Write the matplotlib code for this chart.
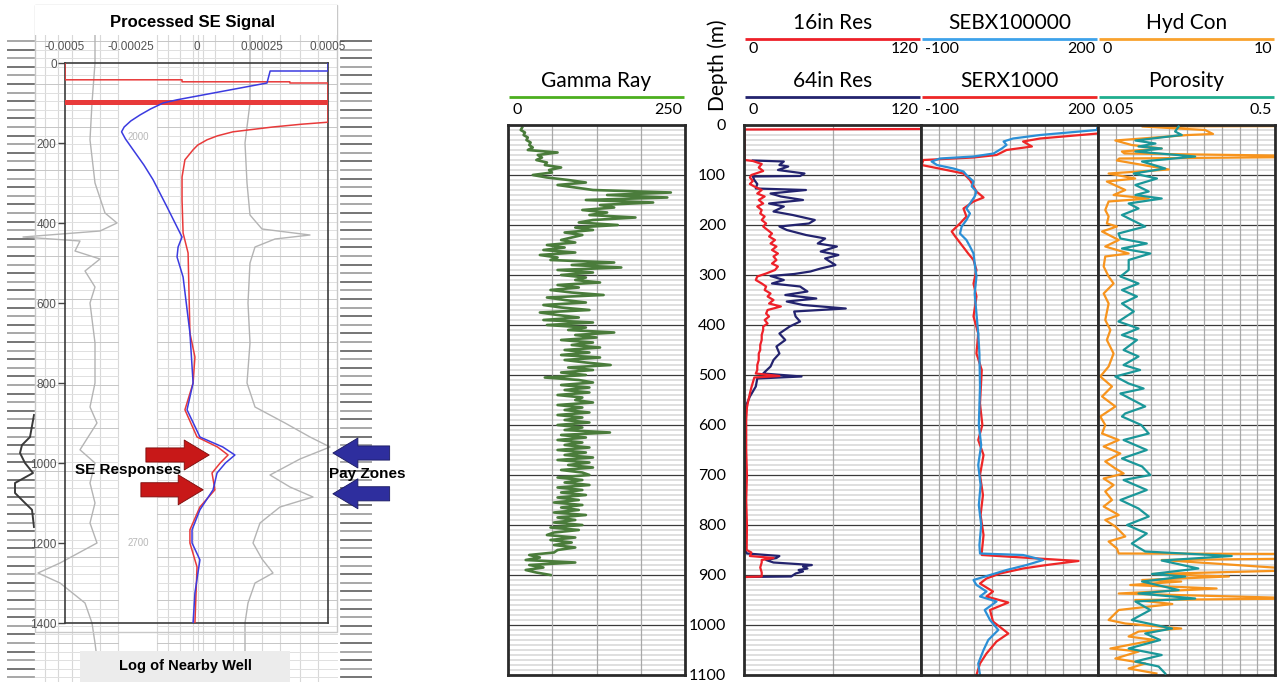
import numpy as np
import matplotlib
matplotlib.use("Agg")
import matplotlib.pyplot as plt
from matplotlib.patches import Rectangle

# ============================ DATA ============================
# ---- Left panel: processed SE signal (depth m, amplitude)
se_ticks = [-0.0005, -0.00025, 0, 0.00025, 0.0005]
se_tick_labels = ["-0.0005", "-0.00025", "0", "0.00025", "0.0005"]
se_depth_ticks = [0, 200, 400, 600, 800, 1000, 1200, 1400]

se_blue_depth = [0, 20, 20, 50, 92, 100, 115, 130, 145, 160, 172, 190, 217, 255, 292, 360,
                 435, 460, 485, 535, 675, 800, 867, 935, 960, 980, 1000, 1025, 1067, 1117,
                 1167, 1200, 1242, 1325, 1400]
se_blue_val = [0.0005, 0.0005, 0.00028, 0.000268, -0.000074, -0.000127, -0.000175,
               -0.000215, -0.000250, -0.000275, -0.000285, -0.00027, -0.000241, -0.000200,
               -0.000165, -0.000112, -0.000055, -0.00007, -0.000074, -0.000051, -0.000025,
               -0.000013, -0.000036, 0.000013, 0.0001, 0.000146, 0.00011, 0.000078,
               0.000063, 0.000013, -0.000017, -0.000017, 0.000013, -0.000006, -0.000013]

se_red_depth = [0, 42, 42, 47, 47, 50, 50, 148, 153, 160, 172, 182, 192, 205, 217, 242,
                285, 342, 425, 475, 675, 735, 800, 867, 935, 960, 980, 1000, 1025, 1067,
                1110, 1167, 1200, 1260, 1400]
se_red_val = [-0.0005, -0.0005, -0.000055, -0.000055, 0.000355, 0.000355, 0.0005, 0.0005,
              0.00040, 0.00029, 0.000139, 0.00008, 0.00004, 0.000005, -0.000013, -0.000044,
              -0.000055, -0.000055, -0.000051, -0.000032, -0.000025, -0.000006, -0.000013,
              -0.000044, 0.000002, 0.00008, 0.00012, 0.00009, 0.000059, 0.00007, 0.000013,
              -0.000025, -0.000025, 0.000002, -0.000006]
se_red_band_depth = 97

# ---- Nearby well log (background scan; depth m, scan position)
well_a_depth = [-70, 0, 100, 192, 300, 375, 400, 420, 435, 445, 470, 490, 520, 560, 600,
                700, 800, 860, 900, 967, 1000, 1050, 1100, 1150, 1200, 1250, 1275, 1300,
                1350, 1400, 1450, 1547]
well_a_val = [95, 95, 92, 90, 95, 105, 117, 100, 23, 80, 75, 100, 85, 95, 90, 95, 95, 90,
              97, 80, 95, 90, 95, 90, 97, 60, 38, 60, 85, 92, 95, 100]
well_b_depth = [-70, 100, 200, 300, 380, 415, 430, 440, 460, 500, 600, 700, 800, 860, 900,
                935, 960, 990, 1030, 1060, 1085, 1110, 1150, 1200, 1240, 1275, 1300, 1350,
                1400, 1547]
well_b_val = [250, 250, 245, 247, 250, 262, 310, 275, 255, 250, 248, 250, 247, 255, 285,
              310, 330, 300, 270, 290, 313, 280, 260, 253, 262, 273, 255, 248, 245, 245]
well_c_depth = [880, 935, 955, 975, 1000, 1025, 1050, 1075, 1100, 1117, 1160]
well_c_val = [34, 30, 22, 20, 25, 33, 15, 15, 25, 32, 34]

# ---- Right panel: well logs vs depth (m)
depth_ticks = [0, 100, 200, 300, 400, 500, 600, 700, 800, 900, 1000, 1100]

gr_depth = np.arange(5, 901, 5)
gr_val = [20, 18, 24, 22, 28, 26, 32, 30, 35, 28,
          70, 42, 48, 40, 55, 52, 75, 58, 62, 35,
          55, 85, 110, 70, 95, 120, 230, 140, 225, 110,
          205, 130, 150, 105, 140, 115, 180, 120, 100, 155,
          95, 120, 80, 105, 90, 75, 95, 55, 80, 50,
          95, 45, 70, 60, 150, 90, 160, 70, 120, 75,
          110, 95, 130, 70, 100, 60, 90, 135, 55, 80,
          110, 50, 75, 115, 45, 70, 100, 50, 120, 55,
          110, 85, 150, 95, 125, 75, 120, 90, 130, 80,
          115, 75, 130, 80, 110, 145, 85, 120, 75, 110,
          52, 100, 120, 75, 115, 80, 115, 70, 105, 95,
          120, 70, 105, 80, 115, 70, 105, 80, 115, 70,
          105, 80, 144, 75, 110, 70, 105, 80, 115, 70,
          110, 80, 120, 70, 115, 85, 120, 75, 105, 115,
          70, 105, 80, 115, 70, 105, 75, 110, 70, 100,
          65, 105, 75, 100, 65, 110, 70, 95, 65, 105,
          60, 100, 65, 55, 95, 60, 90, 65, 95, 70,
          65, 30, 45, 25, 95, 30, 50, 25, 40, 60]

res16_depth = [8, 9, 70, 72, 78, 85, 92, 100, 105, 112, 118, 123, 130, 137, 143, 150, 157,
               163, 170, 177, 183, 190, 197, 203, 210, 217, 223, 230, 237, 243, 250, 257,
               263, 270, 277, 283, 290, 297, 303, 310, 317, 323, 330, 337, 343, 350, 357,
               363, 370, 377, 383, 390, 397, 403, 410, 420, 430, 440, 450, 457, 470, 480,
               490, 497, 502, 505, 515, 525, 537, 550, 565, 590, 650, 700, 750, 800, 850,
               855, 862, 866, 870, 875, 885, 895, 903, 904]
res16_val = [125, 0.5, 0.5, 6, 12, 10, 13, 5, 4, 6, 4, 7, 12, 9, 14, 10, 13, 9, 12, 11, 14,
             12, 15, 13, 16, 19, 17, 21, 18, 22, 19, 23, 20, 22, 19, 23, 21, 15, 9, 8, 12,
             15, 14, 18, 16, 20, 17, 25, 16, 15, 17, 14, 16, 13, 13, 12, 12, 11, 11, 10,
             10, 9, 9, 8, 24, 7, 6, 5, 4, 3, 2, 1.5, 1.5, 2, 1.5, 2, 1.8, 5, 4, 20, 12,
             12, 11, 12, 12, 0.5]

res64_depth = [71, 73, 80, 83, 90, 97, 102, 103, 110, 118, 127, 130, 137, 143, 150, 157,
               163, 173, 180, 190, 197, 203, 210, 220, 227, 237, 243, 253, 260, 267, 280,
               287, 293, 298, 302, 310, 317, 323, 333, 340, 347, 353, 360, 367, 373, 383,
               393, 403, 417, 430, 443, 457, 470, 483, 497, 503, 507, 523, 543, 557, 575,
               850, 857, 862, 866, 870, 875, 880, 883, 887, 890, 893, 897, 903, 904]
res64_val = [6, 27, 24, 30, 23, 41, 38, 6, 7, 9, 8, 42, 18, 25, 40, 17, 27, 20, 33, 48, 44,
             24, 29, 42, 55, 50, 63, 52, 64, 55, 62, 52, 45, 34, 18, 27, 19, 38, 43, 28,
             49, 29, 40, 69, 34, 35, 38, 31, 24, 28, 22, 24, 20, 18, 13, 39, 9, 8, 4, 2,
             0.5, 0.5, 2, 24, 22, 15, 20, 46, 40, 43, 37, 40, 35, 32, 0.5]

sebx_depth = [0, 10, 20, 27, 33, 40, 47, 57, 63, 67, 73, 80, 87, 93, 100, 113, 123, 133,
              143, 157, 167, 177, 190, 203, 217, 230, 243, 257, 277, 303, 337, 377, 417,
              457, 523, 600, 640, 680, 720, 760, 800, 840, 857, 860, 870, 880, 890, 900,
              910, 920, 933, 943, 953, 970, 990, 1010, 1030, 1050, 1077, 1100]
sebx_val = [200, 198, 102, 56, 40, 45, 37, 23, -11, -68, -82, -73, -45, -28, -23, -11,
            -14, -6, -9, -17, -23, -17, -23, -31, -34, -23, -17, -11, -9, -6, -9, -6, -3,
            -1, 0, -2, 2, -3, 1, -2, 2, -1, 0, 73, 107, 79, 45, 17, -11, -6, 11, 0, 28, 8,
            17, 31, 14, 6, -3, 0]

serx_depth = [0, 17, 27, 33, 43, 50, 60, 65, 70, 80, 90, 97, 110, 123, 133, 145, 153, 167,
              183, 197, 213, 223, 240, 257, 270, 290, 317, 343, 383, 417, 457, 490, 557,
              600, 630, 660, 700, 740, 780, 820, 855, 860, 872, 880, 887, 897, 907, 917,
              933, 943, 955, 970, 993, 1017, 1033, 1057, 1077, 1100]
serx_val = [230, 200, 102, 73, 88, 45, 28, -11, -96, -99, -57, -28, -17, -11, -6, 6, -11,
            -28, -23, -34, -48, -42, -31, -20, -11, -6, -11, -6, -11, -3, -6, 3, 0, 4, -3,
            6, 0, 5, 1, 6, 3, 3, 167, 113, 73, 34, 11, 0, 22, 11, 48, 17, 22, 48, 28, 11,
            0, -6]

hyd_depth = [2, 3, 10, 18, 20, 31, 40, 47, 53, 57, 62, 64, 67, 71, 89, 97, 107, 113, 130,
             140, 147, 153, 170, 183, 197, 203, 213, 230, 243, 257, 263, 283, 303, 317,
             337, 357, 390, 410, 430, 457, 483, 503, 523, 543, 563, 583, 600, 617, 630,
             643, 657, 673, 687, 697, 707, 720, 733, 750, 763, 780, 790, 803, 823, 833,
             847, 857, 858, 867, 870, 890, 898, 903, 910, 913, 920, 927, 937, 947, 950,
             958, 970, 990, 997, 1007, 1013, 1023, 1030, 1047, 1053, 1067, 1077, 1087, 1097]
hyd_val = [12, 2.5, 6.05, 6.5, 5.1, 0.98, 1.9, 3.6, 1.35, 1.5, 12, 12, 1.2, 1.07, 4.0, 0.6,
           2.1, 0.5, 1.54, 0.88, 2.86, 0.6, 0.41, 0.6, 0.5, 1.07, 0.23, 1.17, 0.41, 1.73,
           0.41, 0.32, 0.6, 0.88, 0.32, 0.6, 0.41, 0.7, 0.5, 0.88, 0.6, 0.13, 0.79, 0.23,
           0.98, 0.13, 0.41, 0.23, 1.17, 0.32, 1.26, 0.41, 0.98, 1.45, 0.32, 0.88, 0.41,
           0.79, 0.32, 1.17, 0.41, 0.98, 1.54, 0.6, 1.07, 1.17, 12, 12, 3.6, 12, 3.05, 7.4,
           2.5, 4.7, 1.82, 6.7, 1.17, 12, 2.1, 4.2, 1.17, 0.6, 1.54, 4.7, 2.3, 1.73, 3.2,
           0.7, 2.3, 0.98, 2.67, 1.73, 3.3]

por_depth = [3, 13, 20, 31, 37, 43, 47, 53, 63, 73, 87, 97, 107, 120, 133, 140, 147, 157,
             167, 180, 190, 203, 217, 227, 237, 247, 257, 270, 290, 303, 317, 330, 343,
             357, 373, 393, 407, 420, 430, 450, 463, 480, 490, 503, 517, 527, 537, 563,
             577, 583, 600, 617, 630, 650, 667, 683, 700, 710, 730, 750, 767, 783, 800,
             817, 837, 853, 862, 871, 887, 898, 903, 913, 930, 937, 947, 953, 970, 990,
             1007, 1017, 1030, 1047, 1060, 1073, 1083, 1097]
por_val = [0.255, 0.246, 0.263, 0.145, 0.196, 0.153, 0.212, 0.145, 0.297, 0.162, 0.221,
           0.141, 0.2, 0.145, 0.179, 0.145, 0.212, 0.128, 0.153, 0.111, 0.136, 0.17, 0.102,
           0.107, 0.174, 0.111, 0.183, 0.128, 0.128, 0.107, 0.153, 0.111, 0.149, 0.111,
           0.141, 0.102, 0.153, 0.111, 0.149, 0.115, 0.153, 0.115, 0.157, 0.094, 0.128,
           0.166, 0.107, 0.17, 0.119, 0.111, 0.16, 0.179, 0.115, 0.174, 0.111, 0.162, 0.183,
           0.115, 0.174, 0.107, 0.153, 0.179, 0.124, 0.174, 0.136, 0.17, 0.39, 0.212,
           0.305, 0.187, 0.272, 0.162, 0.255, 0.153, 0.297, 0.145, 0.183, 0.136, 0.238,
           0.17, 0.208, 0.128, 0.212, 0.145, 0.204, 0.221]

# ============================ FIGURE ============================
W, H = 1277, 682
fig = plt.figure(figsize=(W / 100, H / 100), dpi=100)
fig.patch.set_facecolor("white")
LAT = "Lato"
ARL = "Liberation Sans"


def rect(x0, y0, x1, y1):
    return [x0 / W, 1 - y1 / H, (x1 - x0) / W, (y1 - y0) / H]


# ---------------- Left panel: scanned nearby-well background ----------------
bg = fig.add_axes(rect(7, 35, 372, 682))
bg.set_xlim(7, 372)
bg.set_ylim(1547.5, -70)
bg.axis("off")
scan_rows = np.arange(-55, 1547, 21.5)
for i, d in enumerate(scan_rows):
    c_in = "#c6c6c6" if i % 5 == 0 else "#e0e0e0"
    bg.plot([35, 118], [d, d], color=c_in, lw=0.7, zorder=1)
    bg.plot([157, 337], [d, d], color=c_in, lw=0.7, zorder=1)
    bg.plot([7, 34], [d, d], color="#6a6a6a" if i % 2 else "#a0a0a0", lw=1.3, zorder=1)
    bg.plot([341, 372], [d, d], color="#6a6a6a" if i % 2 == 0 else "#a0a0a0", lw=1.3,
            zorder=1)
for xv in [45, 58, 72, 100, 118, 157, 168, 180, 193, 198, 203, 215, 233, 262, 280, 300, 318]:
    bg.axvline(xv, color="#d8d8d8", lw=0.8, zorder=0.5)
bg.plot(well_a_val, well_a_depth, color="#b4b4b4", lw=1.0, zorder=2)
bg.plot(well_b_val, well_b_depth, color="#b4b4b4", lw=1.0, zorder=2)
bg.plot(well_c_val, well_c_depth, color="#3a3a3a", lw=1.4, zorder=2)
bg.text(138, 185, "2000", color="#b8b8b8", fontsize=7, ha="center", va="center", family=ARL)
bg.text(138, 1200, "2700", color="#b8b8b8", fontsize=7, ha="center", va="center", family=ARL)

deco = fig.add_axes([0, 0, 1, 1])
deco.set_xlim(0, W)
deco.set_ylim(H, 0)
deco.axis("off")
deco.add_patch(Rectangle((35, 5), 302, 627, fill=False, ec="#c8c8c8", lw=1.0))
deco.add_patch(Rectangle((35, 5), 302, 30, fc="white", ec="none"))
deco.add_patch(Rectangle((80, 651), 210, 31, fc="#ececec", ec="none"))
deco.text(185, 666, "Log of Nearby Well", fontsize=10.5, fontweight="bold",
          ha="center", va="center", family=ARL)
deco.text(193, 22, "Processed SE Signal", fontsize=12, fontweight="bold",
          ha="center", va="center", family=ARL)
deco.text(718, 65, "Depth (m)", fontsize=15, rotation=90, ha="center", va="center", family=LAT)

# ---------------- Left panel: SE signal axes ----------------
ax0 = fig.add_axes(rect(65, 63, 328, 623))
ax0.patch.set_alpha(0)
ax0.set_xlim(-0.0005, 0.0005)
ax0.set_ylim(1400, 0)
ax0.plot([-0.0005, 0.0005], [se_red_band_depth] * 2, color="#e83a3a", lw=3.6, zorder=3)
ax0.plot(se_red_val, se_red_depth, color="#e83a3a", lw=1.1, zorder=4)
ax0.plot(se_blue_val, se_blue_depth, color="#3b3be0", lw=1.1, zorder=4)
ax0.xaxis.tick_top()
ax0.set_xticks(se_ticks)
ax0.set_xticklabels(se_tick_labels)
ax0.set_yticks(se_depth_ticks)
ax0.set_yticklabels([str(v) for v in se_depth_ticks])
ax0.tick_params(axis="x", length=0, pad=7, labelsize=8.5, labelcolor="#555555")
ax0.tick_params(axis="y", length=5, width=1, color="#444444", pad=1, labelsize=8.5,
                labelcolor="#555555")
for lab in ax0.get_xticklabels() + ax0.get_yticklabels():
    lab.set_family(ARL)
for s in ax0.spines.values():
    s.set_color("#3c3c3c")
    s.set_linewidth(1.2)

arrow_red = dict(arrowstyle="simple,head_length=1.5,head_width=1.8,tail_width=0.85",
                 fc="#c81818", ec="#7a0a0a", lw=0.6, mutation_scale=12)
arrow_blue = dict(arrowstyle="simple,head_length=1.5,head_width=1.8,tail_width=0.85",
                  fc="#2e2e9e", ec="#1a1a60", lw=0.6, mutation_scale=12)
ax0.annotate("", xy=(0.000059, 980), xytext=(-0.000203, 980), arrowprops=arrow_red,
             annotation_clip=False)
ax0.annotate("", xy=(0.000036, 1067), xytext=(-0.000222, 1067), arrowprops=arrow_red,
             annotation_clip=False)
ax0.annotate("", xy=(0.000508, 975), xytext=(0.000745, 975), arrowprops=arrow_blue,
             annotation_clip=False)
ax0.annotate("", xy=(0.000508, 1077), xytext=(0.000745, 1077), arrowprops=arrow_blue,
             annotation_clip=False)
ax0.text(-0.00026, 1017, "SE Responses", fontsize=11, fontweight="bold", ha="center",
         va="center", family=ARL, zorder=6)
ax0.text(0.00065, 1027, "Pay Zones", fontsize=11, fontweight="bold", ha="center",
         va="center", family=ARL, zorder=6, clip_on=False)


# ---------------- Right panel tracks ----------------
def track(x0, x1, xlim, vgrid):
    ax = fig.add_axes(rect(x0, 125, x1, 675))
    ax.set_xlim(*xlim)
    ax.set_ylim(1100, 0)
    for d in range(10, 1100, 10):
        if d % 100:
            ax.axhline(d, color="#d9d9d9", lw=1.2, zorder=0)
    for d in range(100, 1100, 100):
        ax.axhline(d, color="#3a3a3a", lw=0.9, zorder=1)
    for v in vgrid:
        ax.axvline(v, color="#a8a8a8", lw=0.9, zorder=1)
    ax.set_xticks([])
    ax.set_yticks([])
    for s in ax.spines.values():
        s.set_linewidth(2.0)
        s.set_color("#2a2a2a")
        s.set_zorder(5)
    return ax


def header(ax, row, title, color, lo, hi):
    def ay(py):
        return 1 + (125 - py) / 550
    ty, ly, ky = (23, 39, 49) if row == 1 else (81, 97, 110)
    ax.text(0.5, ay(ty), title, transform=ax.transAxes, ha="center", va="center",
            fontsize=15, family=LAT)
    ax.plot([0.006, 0.994], [ay(ly)] * 2, transform=ax.transAxes, color=color, lw=2.0,
            clip_on=False, solid_capstyle="butt")
    ax.text(0.025, ay(ky), lo, transform=ax.transAxes, ha="left", va="center",
            fontsize=11.5, family=LAT)
    ax.text(0.985, ay(ky), hi, transform=ax.transAxes, ha="right", va="center",
            fontsize=11.5, family=LAT)


ax_gr = track(508, 685, (0, 250), [62.5, 125, 187.5])
ax_gr.plot(gr_val, gr_depth, color="#4a7c3b", lw=1.9, zorder=3)
header(ax_gr, 2, "Gamma Ray", "#4caf1e", "0", "250")

ax_res = track(744, 921, (0, 120), [60])
ax_res.plot(res64_val, res64_depth, color="#23236e", lw=1.6, zorder=3)
ax_res.plot(res16_val, res16_depth, color="#ee2029", lw=1.6, zorder=4)
header(ax_res, 1, "16in Res", "#ee2029", "0", "120")
header(ax_res, 2, "64in Res", "#23236e", "0", "120")
ax_res.set_yticks(depth_ticks)
ax_res.set_yticklabels([str(v) for v in depth_ticks])
ax_res.tick_params(axis="y", length=0, pad=13, labelsize=11.5)
for lab in ax_res.get_yticklabels():
    lab.set_family(LAT)

ax_se = track(921, 1098, (-100, 200), list(range(-70, 200, 30)))
ax_se.plot(serx_val, serx_depth, color="#ee2626", lw=1.6, zorder=3)
ax_se.plot(sebx_val, sebx_depth, color="#2b8fd6", lw=1.6, zorder=4)
header(ax_se, 1, "SEBX100000", "#3ea2ea", "-100", "200")
header(ax_se, 2, "SERX1000", "#ee2626", "-100", "200")

ax_hc = track(1098, 1275, (0, 10), list(range(1, 10)))
ax_hc.plot(hyd_val, hyd_depth, color="#f7941d", lw=1.6, zorder=3)
ax_po = ax_hc.twiny()
ax_po.set_xlim(0.05, 0.5)
ax_po.set_ylim(1100, 0)
ax_po.set_xticks([])
ax_po.axis("off")
ax_po.plot(por_val, por_depth, color="#1a9799", lw=1.6, zorder=4)
header(ax_hc, 1, "Hyd Con", "#f9a22e", "0", "10")
header(ax_hc, 2, "Porosity", "#1fae8e", "0.05", "0.5")

fig.savefig("out.png", dpi=100)
